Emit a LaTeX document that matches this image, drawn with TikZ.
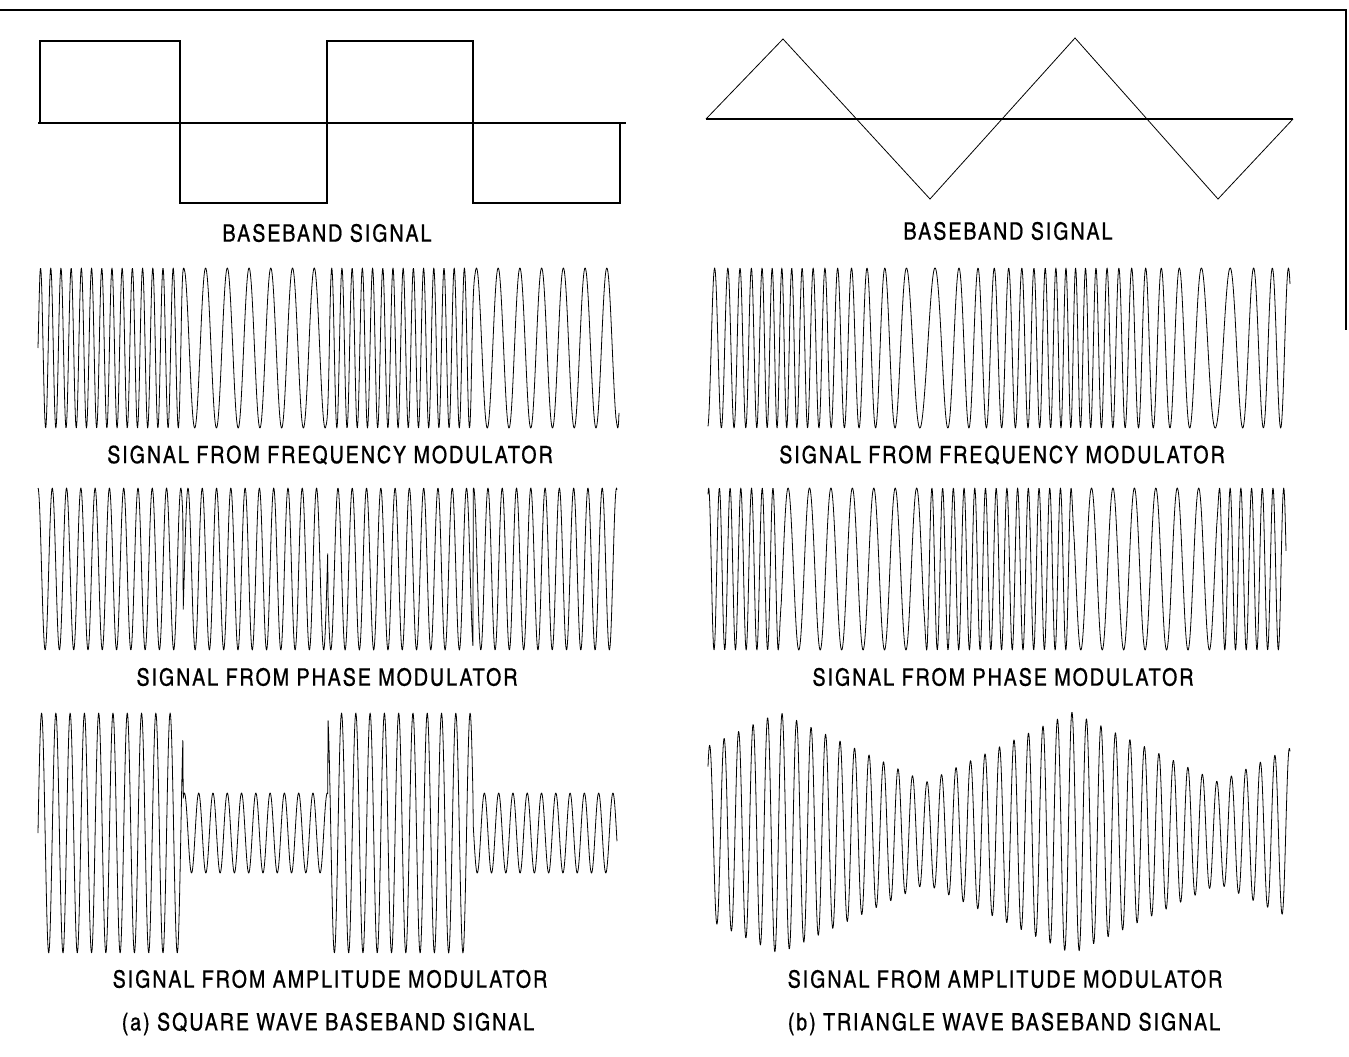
\documentclass[tikz,border=0pt]{standalone}
\usepackage{fontspec}
\newfontfamily\capfont[LetterSpace=8,FakeBold=0.6]{texgyreheroscn-regular.otf}
\usepackage{tikz}

\begin{document}
\begin{tikzpicture}[x=1pt,y=-1pt,
  wave/.style={line width=0.8pt,line join=round},
  base/.style={line width=1.1pt,line join=miter},
  axis line/.style={line width=1.8pt},
  frame line/.style={line width=2.4pt},
  caption/.style={font=\capfont\fontsize{24}{26}\selectfont,inner sep=0pt},
  declare function={
    sqint(\t)=acos(cos(\t/290*360))/180;
    sqsgn(\t)=(sin(\t/290*360)>=0 ? 1 : -1);
    trisig(\t)=asin(sin(\t/293*360))/90;
    triwrap(\t)=atan2(sin(\t/293*360-90),cos(\t/293*360-90));
    triint(\t)=(293/360)*(triwrap(\t)-triwrap(\t)*(abs(triwrap(\t))/180));
    carrier(\p)=sin(360*mod(\p,1));
  }]
\fill[white] (0,0) rectangle (1349,1057);
\useasboundingbox (0,0) rectangle (1349,1057);
\draw[frame line] (0,10)--(1346,10)--(1346,330);
\draw[axis line] (38,123)--(626,123);
\draw[base] (40,123)--(40,41)--(180,41)--(180,203)--(327,203)--(327,41)--(473,41)--(473,203)--(620,203)--(620,123);
\draw[axis line] (706,119)--(1293,119);
\draw[base,line width=0.8pt] (706,119)--(783,39)--(930,199)--(1075,38)--(1218,199)--(1293,119);
\draw[wave] plot[domain=0:581,samples=1500] ({38+\x},{348-80*carrier(0.072*\x+3.77*sqint(\x))});
\draw[wave] plot[domain=0:579,samples=1500] ({38+\x},{569-81*carrier(0.07*\x+0.25*sqsgn(\x))});
\draw[wave] plot[domain=0:579,samples=1500] ({38+\x},{833-(80+40*sqsgn(\x))*carrier(0.07*\x)});
\draw[wave] plot[domain=2:584,samples=1500] ({706+\x},{348-80*carrier(0.068*\x+0.037*triint(\x))});
\draw[wave] plot[domain=2:580,samples=1500] ({706+\x},{569-81*carrier(0.07*\x+1.71*trisig(\x))});
\draw[wave] plot[domain=2:584,samples=1500] ({706+\x},{833-(86+35*trisig(\x))*carrier(0.069*\x)});
\node[caption] (bbA) at (327,233) {BASEBAND SIGNAL};
\node[caption] (bbB) at (1008,231) {BASEBAND SIGNAL};
\node[caption] (fmA) at (330,455) {SIGNAL FROM FREQUENCY MODULATOR};
\node[caption] (fmB) at (1002,455) {SIGNAL FROM FREQUENCY MODULATOR};
\node[caption] (pmA) at (327,677) {SIGNAL FROM PHASE MODULATOR};
\node[caption] (pmB) at (1003,677) {SIGNAL FROM PHASE MODULATOR};
\node[caption] (amA) at (330,979) {SIGNAL FROM AMPLITUDE MODULATOR};
\node[caption] (amB) at (1005,979) {SIGNAL FROM AMPLITUDE MODULATOR};
\node[caption] (capA) at (328,1024) {(a) SQUARE WAVE BASEBAND SIGNAL};
\node[caption] (capB) at (1004,1024) {(b) TRIANGLE WAVE BASEBAND SIGNAL};
\end{tikzpicture}
\end{document}
